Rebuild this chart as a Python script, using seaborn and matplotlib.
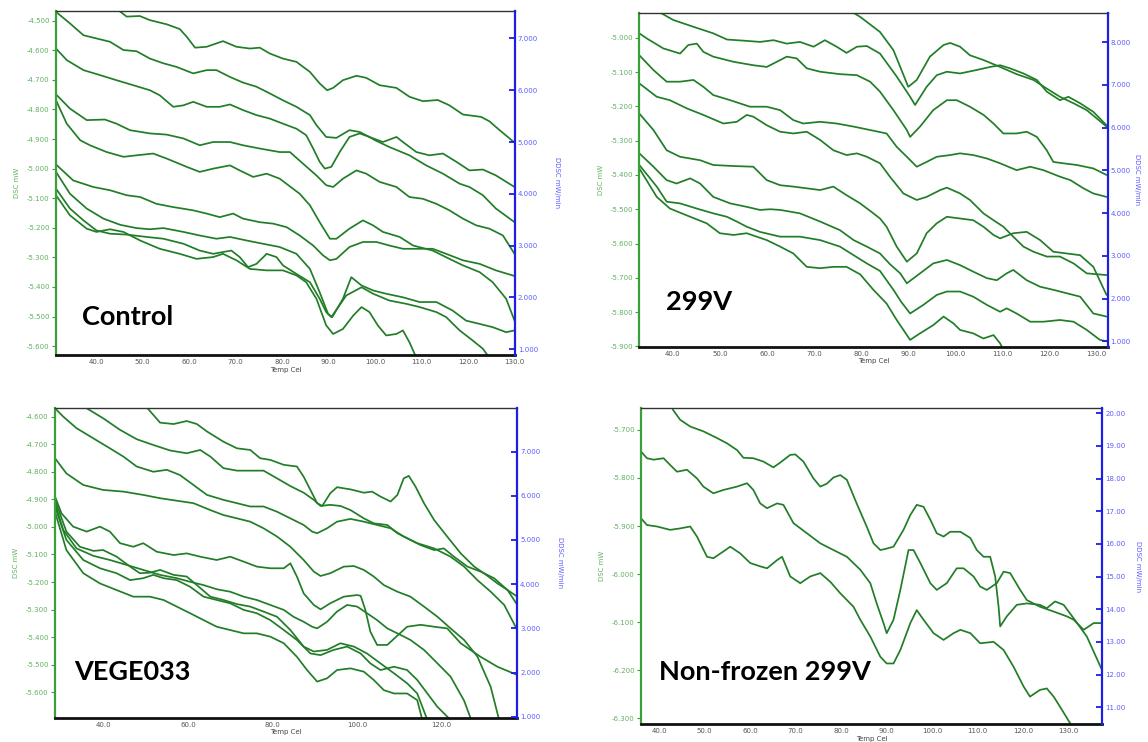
import matplotlib
matplotlib.use("Agg")
import matplotlib.pyplot as plt
import pandas as pd
import seaborn as sns
from matplotlib.ticker import FixedLocator, FuncFormatter

# ---------------- DSC traces (temperature degC, DSC mW) ----------------
# Control
control_1 = [(44.0,-4.455),(46.6,-4.486),(49.4,-4.484),(51.6,-4.498),(55.2,-4.512),(58.0,-4.528),(59.5,-4.554),(61.3,-4.591),(63.8,-4.588),(67.3,-4.569),(70.2,-4.588),(73.1,-4.594),(75.2,-4.591),(77.4,-4.611),(80.2,-4.628),(83.1,-4.639),(86.0,-4.673),(88.1,-4.712),(89.7,-4.735),(91.0,-4.727),(93.1,-4.701),(96.0,-4.686),(98.1,-4.693),(101.0,-4.718),(104.6,-4.727),(107.4,-4.757),(110.3,-4.772),(113.5,-4.768),(116.0,-4.786),(118.9,-4.817),(122.8,-4.825),(124.6,-4.840),(126.8,-4.870),(130.0,-4.912)]
control_2 = [(31.4,-4.470),(34.4,-4.509),(37.3,-4.549),(40.9,-4.563),(43.0,-4.571),(45.9,-4.599),(48.7,-4.603),(51.6,-4.628),(54.5,-4.644),(57.3,-4.656),(60.9,-4.678),(63.8,-4.667),(65.9,-4.667),(68.8,-4.690),(71.6,-4.709),(74.5,-4.723),(77.4,-4.746),(80.2,-4.769),(83.1,-4.791),(86.0,-4.819),(87.4,-4.853),(89.5,-4.893),(91.7,-4.896),(94.5,-4.870),(96.7,-4.876),(98.8,-4.893),(101.7,-4.910),(104.6,-4.893),(106.0,-4.910),(108.9,-4.944),(111.7,-4.955),(114.6,-4.949),(117.5,-4.977),(120.3,-5.006),(123.2,-5.003),(126.0,-5.023),(130.0,-5.062)]
control_3 = [(31.4,-4.594),(33.7,-4.633),(37.3,-4.667),(40.9,-4.684),(44.4,-4.701),(48.0,-4.718),(51.6,-4.735),(53.7,-4.752),(56.6,-4.791),(58.8,-4.786),(60.9,-4.774),(63.8,-4.791),(66.6,-4.791),(68.8,-4.783),(71.6,-4.802),(74.5,-4.819),(77.4,-4.831),(80.2,-4.848),(83.1,-4.865),(85.2,-4.887),(86.7,-4.932),(88.1,-4.977),(89.2,-5.000),(90.6,-4.994),(92.4,-4.944),(94.5,-4.893),(96.7,-4.881),(98.8,-4.893),(100.0,-4.904),(103.1,-4.927),(107.4,-4.955),(111.0,-4.989),(114.6,-5.017),(118.2,-5.051),(120.3,-5.062),(123.2,-5.090),(126.0,-5.135),(130.0,-5.181)]
control_4 = [(31.4,-4.749),(34.4,-4.797),(38.0,-4.836),(41.9,-4.834),(44.4,-4.848),(47.3,-4.870),(51.6,-4.881),(55.2,-4.885),(58.8,-4.898),(62.3,-4.921),(65.2,-4.910),(68.8,-4.910),(71.6,-4.921),(75.2,-4.932),(79.5,-4.944),(81.7,-4.944),(84.5,-4.983),(87.4,-5.023),(89.5,-5.056),(91.0,-5.062),(93.1,-5.034),(96.0,-5.006),(98.1,-5.017),(101.0,-5.045),(104.6,-5.062),(107.4,-5.096),(110.3,-5.102),(113.2,-5.119),(116.0,-5.141),(118.9,-5.169),(121.8,-5.192),(124.6,-5.203),(127.5,-5.226),(130.0,-5.288)]
control_5 = [(31.4,-4.769),(33.7,-4.848),(36.6,-4.904),(38.7,-4.921),(42.3,-4.944),(45.9,-4.960),(48.7,-4.955),(52.3,-4.949),(55.2,-4.966),(59.5,-4.994),(62.3,-5.011),(65.2,-5.000),(68.8,-4.989),(70.9,-5.006),(73.8,-5.028),(76.7,-5.017),(79.5,-5.034),(83.8,-5.085),(86.0,-5.124),(88.1,-5.181),(90.3,-5.237),(91.7,-5.237),(94.5,-5.203),(97.4,-5.175),(99.6,-5.192),(101.7,-5.214),(105.3,-5.231),(108.2,-5.260),(112.4,-5.277),(116.0,-5.305),(118.9,-5.327),(122.5,-5.350),(125.3,-5.384),(128.2,-5.440),(130.0,-5.514)]
control_6 = [(31.4,-4.986),(35.1,-5.040),(39.4,-5.062),(43.0,-5.073),(46.6,-5.090),(49.5,-5.096),(53.0,-5.119),(56.6,-5.130),(60.9,-5.141),(63.8,-5.152),(66.6,-5.164),(69.5,-5.152),(71.6,-5.169),(75.2,-5.181),(78.1,-5.186),(81.0,-5.198),(83.8,-5.226),(86.7,-5.260),(88.8,-5.293),(90.3,-5.310),(91.7,-5.305),(94.5,-5.265),(97.4,-5.248),(100.3,-5.248),(103.1,-5.260),(106.0,-5.271),(108.9,-5.271),(112.4,-5.271),(115.3,-5.288),(118.9,-5.310),(122.5,-5.322),(126.0,-5.344),(130.0,-5.363)]
control_7 = [(31.4,-5.011),(34.4,-5.085),(38.0,-5.135),(41.6,-5.169),(45.2,-5.190),(48.7,-5.201),(51.6,-5.205),(54.5,-5.201),(58.8,-5.214),(62.3,-5.226),(65.9,-5.237),(68.8,-5.231),(72.4,-5.243),(75.9,-5.254),(79.5,-5.265),(83.1,-5.288),(86.0,-5.339),(88.1,-5.418),(89.9,-5.491),(90.8,-5.502),(93.1,-5.440),(94.9,-5.367),(97.1,-5.395),(99.6,-5.412),(102.4,-5.423),(106.0,-5.435),(109.6,-5.451),(113.2,-5.451),(116.7,-5.480),(119.6,-5.514),(122.5,-5.525),(125.3,-5.536),(128.2,-5.553),(130.0,-5.547)]
control_8 = [(31.4,-5.068),(34.4,-5.135),(37.3,-5.175),(40.1,-5.209),(43.0,-5.220),(46.6,-5.223),(50.9,-5.231),(54.5,-5.237),(58.8,-5.254),(62.3,-5.277),(65.2,-5.288),(67.3,-5.282),(69.1,-5.277),(70.9,-5.299),(72.7,-5.333),(74.5,-5.322),(76.7,-5.288),(78.8,-5.299),(80.2,-5.327),(83.1,-5.356),(86.0,-5.384),(88.1,-5.440),(89.5,-5.485),(90.6,-5.502),(93.8,-5.429),(97.1,-5.401),(99.6,-5.423),(103.1,-5.446),(106.7,-5.457),(109.6,-5.468),(113.2,-5.485),(115.3,-5.502),(118.2,-5.547),(121.0,-5.581),(123.2,-5.609),(124.6,-5.640)]
control_9 = [(31.4,-5.090),(34.4,-5.158),(38.0,-5.203),(40.1,-5.214),(43.0,-5.205),(45.9,-5.214),(49.5,-5.243),(53.7,-5.271),(58.0,-5.288),(61.6,-5.305),(65.2,-5.299),(67.3,-5.288),(70.2,-5.310),(73.1,-5.339),(76.7,-5.344),(80.2,-5.344),(83.1,-5.361),(85.2,-5.384),(87.4,-5.440),(89.5,-5.530),(91.0,-5.559),(93.1,-5.542),(95.3,-5.497),(97.1,-5.468),(98.8,-5.485),(100.6,-5.530),(102.4,-5.564),(104.6,-5.559),(106.0,-5.547),(107.4,-5.587),(108.9,-5.640)]

# 299V
v299_0 = [(77.0,-4.915),(78.0,-4.924),(79.8,-4.939),(84.0,-4.983),(86.85,-5.036),(88.3,-5.085),(90.0,-5.143),(91.8,-5.123),(94.6,-5.055),(97.5,-5.021),(98.9,-5.015),(101.0,-5.026),(103.1,-5.051),(106.0,-5.065),(109.5,-5.085),(113.0,-5.106),(116.6,-5.123),(119.4,-5.148),(122.2,-5.172),(125.1,-5.191),(127.9,-5.211),(132.1,-5.259)]
v299_1 = [(35.9,-4.905),(37.0,-4.924),(40.1,-4.948),(44.4,-4.968),(48.6,-4.987),(51.5,-5.005),(55.7,-5.009),(58.5,-5.012),(61.4,-5.007),(64.2,-5.017),(67.0,-5.012),(69.9,-5.026),(72.3,-5.007),(74.8,-5.026),(76.9,-5.044),(79.1,-5.026),(81.2,-5.024),(84.0,-5.046),(87.6,-5.114),(90.4,-5.172),(91.45,-5.196),(93.9,-5.143),(96.05,-5.109),(98.2,-5.099),(101.0,-5.104),(104.5,-5.094),(107.4,-5.085),(109.5,-5.080),(111.6,-5.089),(114.45,-5.104),(117.3,-5.123),(119.4,-5.157),(122.2,-5.182),(124.0,-5.172),(126.5,-5.191),(129.3,-5.216),(132.1,-5.255)]
v299_2 = [(32.9,-4.987),(34.5,-5.002),(38.0,-5.031),(41.55,-5.046),(43.3,-5.021),(45.1,-5.017),(46.5,-5.041),(48.6,-5.055),(52.9,-5.070),(57.1,-5.080),(59.95,-5.085),(62.8,-5.065),(64.2,-5.055),(66.3,-5.060),(68.45,-5.089),(71.3,-5.099),(75.5,-5.106),(79.1,-5.109),(81.9,-5.128),(84.0,-5.157),(86.85,-5.211),(89.7,-5.269),(90.4,-5.289),(92.5,-5.259),(95.3,-5.211),(98.2,-5.182),(100.3,-5.182),(103.1,-5.201),(106.0,-5.225),(108.1,-5.250),(110.2,-5.279),(113.0,-5.279),(115.15,-5.274),(117.3,-5.289),(119.4,-5.328),(120.8,-5.362),(122.9,-5.366),(125.8,-5.371),(129.3,-5.381),(132.1,-5.400)]
v299_3 = [(32.9,-5.051),(35.9,-5.094),(38.7,-5.128),(41.55,-5.128),(44.4,-5.123),(46.5,-5.143),(48.6,-5.167),(52.2,-5.182),(56.4,-5.201),(59.95,-5.201),(62.8,-5.211),(65.6,-5.240),(67.7,-5.250),(71.3,-5.245),(74.8,-5.250),(78.4,-5.259),(81.9,-5.269),(85.4,-5.279),(87.55,-5.318),(89.7,-5.347),(91.8,-5.376),(93.9,-5.362),(96.05,-5.347),(98.9,-5.342),(101.0,-5.337),(103.8,-5.342),(106.7,-5.352),(109.5,-5.366),(113.0,-5.386),(115.9,-5.376),(118.7,-5.386),(122.2,-5.405),(124.4,-5.415),(127.2,-5.439),(129.3,-5.454),(132.1,-5.464)]
v299_4 = [(32.9,-5.133),(36.6,-5.172),(39.4,-5.182),(43.0,-5.206),(46.5,-5.225),(50.75,-5.250),(53.6,-5.245),(55.7,-5.225),(57.1,-5.230),(59.95,-5.255),(62.8,-5.274),(65.6,-5.279),(68.45,-5.274),(71.3,-5.298),(74.1,-5.328),(76.9,-5.342),(79.1,-5.337),(81.2,-5.347),(84.0,-5.366),(86.1,-5.405),(88.97,-5.454),(91.8,-5.473),(93.9,-5.464),(96.8,-5.444),(98.2,-5.437),(101.0,-5.454),(103.1,-5.473),(105.96,-5.512),(108.1,-5.532),(110.2,-5.551),(112.3,-5.580),(114.45,-5.609),(116.6,-5.624),(119.4,-5.638),(122.2,-5.638),(125.1,-5.658),(127.9,-5.687),(132.1,-5.692)]
v299_5 = [(32.9,-5.221),(35.9,-5.269),(38.7,-5.328),(41.55,-5.347),(45.8,-5.357),(48.6,-5.371),(52.9,-5.374),(57.1,-5.376),(59.95,-5.415),(62.8,-5.430),(65.6,-5.434),(68.45,-5.439),(71.3,-5.444),(74.1,-5.434),(76.9,-5.459),(79.8,-5.483),(82.6,-5.512),(84.0,-5.527),(85.4,-5.551),(87.55,-5.609),(89.7,-5.653),(91.8,-5.629),(93.9,-5.570),(96.05,-5.541),(98.2,-5.522),(101.0,-5.527),(103.8,-5.532),(105.96,-5.551),(108.1,-5.575),(109.5,-5.585),(112.3,-5.570),(115.15,-5.566),(118.0,-5.590),(120.8,-5.624),(123.65,-5.629),(126.5,-5.634),(129.3,-5.668),(132.1,-5.750)]
v299_6 = [(32.9,-5.337),(35.9,-5.376),(38.7,-5.415),(40.8,-5.425),(43.7,-5.410),(45.8,-5.425),(48.6,-5.464),(52.2,-5.483),(55.7,-5.493),(58.5,-5.502),(60.7,-5.500),(62.8,-5.502),(67.0,-5.512),(71.3,-5.536),(75.5,-5.561),(78.4,-5.590),(81.2,-5.609),(84.0,-5.629),(86.1,-5.660),(88.3,-5.687),(89.7,-5.716),(92.5,-5.687),(95.3,-5.658),(98.2,-5.648),(101.0,-5.663),(103.8,-5.682),(106.7,-5.701),(108.8,-5.707),(110.9,-5.687),(112.3,-5.677),(115.15,-5.707),(118.0,-5.726),(120.8,-5.735),(123.65,-5.745),(126.5,-5.755),(129.3,-5.804),(132.1,-5.813)]
v299_7 = [(32.9,-5.371),(36.6,-5.434),(38.7,-5.478),(41.55,-5.483),(45.1,-5.498),(48.6,-5.512),(51.5,-5.522),(53.6,-5.536),(55.7,-5.551),(58.5,-5.566),(62.8,-5.580),(67.0,-5.580),(71.3,-5.590),(75.5,-5.609),(78.4,-5.634),(81.2,-5.658),(84.0,-5.680),(86.85,-5.735),(88.5,-5.770),(90.4,-5.804),(93.2,-5.779),(96.05,-5.750),(98.2,-5.740),(101.0,-5.740),(103.8,-5.755),(106.7,-5.779),(109.5,-5.799),(110.9,-5.789),(113.0,-5.804),(115.9,-5.828),(118.7,-5.828),(122.2,-5.823),(125.1,-5.828),(127.9,-5.852),(130.7,-5.881),(132.1,-5.885)]
v299_8 = [(32.9,-5.381),(36.6,-5.464),(39.4,-5.498),(43.7,-5.522),(47.2,-5.541),(50.0,-5.570),(52.9,-5.575),(55.7,-5.570),(59.95,-5.590),(62.8,-5.609),(65.6,-5.629),(68.45,-5.668),(71.3,-5.672),(74.1,-5.668),(76.9,-5.668),(79.8,-5.690),(82.6,-5.735),(85.4,-5.775),(87.55,-5.823),(90.4,-5.881),(92.5,-5.862),(95.3,-5.838),(97.5,-5.813),(99.6,-5.833),(101.0,-5.852),(103.8,-5.862),(105.96,-5.877),(108.1,-5.867),(109.5,-5.891),(110.2,-5.910)]

# VEGE033
vege_1 = [(50.1,-4.566),(53.3,-4.622),(56.5,-4.627),(59.6,-4.616),(62.0,-4.627),(64.4,-4.654),(68.3,-4.691),(71.5,-4.715),(74.65,-4.721),(77.0,-4.751),(79.4,-4.757),(82.6,-4.775),(85.7,-4.781),(87.3,-4.818),(88.9,-4.866),(90.5,-4.914),(91.7,-4.924),(93.6,-4.878),(95.2,-4.856),(98.4,-4.864),(101.55,-4.876),(103.5,-4.872),(105.5,-4.890),(107.9,-4.908),(109.5,-4.884),(111.0,-4.824),(112.2,-4.815),(113.8,-4.854),(115.8,-4.914),(118.2,-4.975),(121.3,-5.035),(124.5,-5.096),(127.7,-5.144),(130.0,-5.168),(133.2,-5.205),(135.6,-5.229),(137.9,-5.253)]
vege_2 = [(35.5,-4.566),(39.8,-4.606),(43.8,-4.648),(47.75,-4.682),(51.7,-4.703),(55.7,-4.723),(59.6,-4.733),(62.8,-4.721),(65.2,-4.745),(68.3,-4.787),(71.5,-4.796),(74.65,-4.796),(77.8,-4.796),(81.0,-4.824),(84.15,-4.852),(87.3,-4.876),(89.7,-4.902),(91.3,-4.924),(93.6,-4.920),(96.0,-4.924),(98.4,-4.939),(101.55,-4.969),(103.9,-4.987),(107.1,-4.993),(109.5,-5.023),(112.6,-5.047),(115.0,-5.066),(118.2,-5.084),(120.5,-5.078),(122.9,-5.108),(126.1,-5.144),(129.2,-5.162),(132.4,-5.186),(135.6,-5.229),(137.9,-5.283)]
vege_3 = [(28.4,-4.570),(30.35,-4.600),(33.5,-4.642),(37.5,-4.679),(41.4,-4.715),(44.6,-4.745),(47.75,-4.781),(51.7,-4.800),(54.9,-4.793),(58.0,-4.812),(61.2,-4.848),(64.4,-4.884),(68.3,-4.902),(71.5,-4.914),(74.65,-4.926),(77.8,-4.926),(81.0,-4.945),(84.15,-4.969),(87.3,-4.993),(89.3,-5.017),(90.5,-5.023),(92.85,-5.005),(95.2,-4.981),(98.4,-4.971),(101.55,-4.981),(104.7,-4.993),(107.9,-5.005),(111.0,-5.035),(114.2,-5.059),(118.2,-5.078),(122.1,-5.108),(125.3,-5.144),(128.45,-5.193),(131.6,-5.235),(134.8,-5.283),(137.9,-5.374)]
vege_4 = [(28.4,-4.751),(31.1,-4.806),(35.1,-4.848),(39.8,-4.866),(44.6,-4.872),(49.3,-4.884),(53.3,-4.896),(57.25,-4.905),(61.2,-4.914),(65.2,-4.939),(68.3,-4.957),(71.5,-4.969),(74.65,-4.981),(77.8,-5.005),(81.0,-5.035),(84.15,-5.072),(87.3,-5.120),(89.7,-5.162),(91.3,-5.178),(93.6,-5.168),(96.8,-5.144),(99.2,-5.142),(101.55,-5.156),(103.9,-5.180),(106.3,-5.211),(109.5,-5.235),(112.6,-5.253),(115.8,-5.289),(119.0,-5.326),(122.1,-5.368),(125.3,-5.410),(128.45,-5.470),(131.6,-5.580),(133.6,-5.700)]
vege_5 = [(28.4,-4.890),(29.95,-4.951),(32.7,-4.999),(35.9,-5.017),(39.05,-4.999),(41.4,-5.017),(43.8,-5.059),(46.96,-5.072),(49.3,-5.059),(52.5,-5.090),(56.5,-5.102),(59.6,-5.096),(62.8,-5.108),(66.7,-5.120),(69.9,-5.108),(73.1,-5.126),(76.2,-5.144),(79.4,-5.150),(82.6,-5.150),(84.15,-5.132),(85.7,-5.180),(87.3,-5.241),(89.7,-5.283),(91.3,-5.299),(93.6,-5.277),(96.8,-5.253),(99.97,-5.247),(100.8,-5.250),(101.9,-5.300),(103.1,-5.380),(104.7,-5.428),(107.1,-5.428),(111.8,-5.362),(115.0,-5.355),(118.2,-5.362),(121.3,-5.368),(124.5,-5.422),(129.2,-5.471),(133.2,-5.507),(137.9,-5.537)]
vege_6 = [(28.4,-4.914),(30.35,-5.011),(33.5,-5.078),(37.5,-5.105),(41.4,-5.120),(45.4,-5.138),(49.3,-5.156),(53.3,-5.174),(57.25,-5.186),(60.4,-5.199),(63.6,-5.211),(66.7,-5.226),(69.9,-5.235),(73.1,-5.253),(76.2,-5.265),(79.4,-5.283),(82.6,-5.301),(84.9,-5.326),(87.3,-5.344),(89.3,-5.362),(90.5,-5.368),(92.85,-5.344),(95.2,-5.307),(97.6,-5.283),(99.97,-5.289),(102.3,-5.313),(104.7,-5.338),(107.1,-5.368),(109.5,-5.386),(112.6,-5.410),(115.8,-5.446),(119.0,-5.495),(122.1,-5.543),(125.3,-5.630),(127.0,-5.700)]
vege_7 = [(28.4,-4.902),(31.1,-5.017),(34.3,-5.072),(37.5,-5.087),(39.8,-5.084),(43.0,-5.108),(46.2,-5.144),(48.5,-5.168),(50.9,-5.166),(53.3,-5.156),(56.5,-5.174),(59.6,-5.180),(62.0,-5.211),(65.2,-5.253),(68.3,-5.265),(71.5,-5.280),(74.65,-5.289),(77.8,-5.307),(81.0,-5.326),(84.15,-5.374),(87.3,-5.434),(89.7,-5.452),(92.85,-5.446),(96.0,-5.422),(99.2,-5.434),(102.3,-5.459),(105.5,-5.495),(108.7,-5.531),(111.8,-5.567),(114.2,-5.604),(116.6,-5.700)]
vege_8 = [(28.4,-4.926),(31.1,-5.047),(35.1,-5.120),(39.05,-5.150),(42.99,-5.168),(46.2,-5.193),(49.3,-5.186),(51.7,-5.174),(54.1,-5.186),(57.25,-5.193),(60.4,-5.217),(63.6,-5.253),(66.7,-5.265),(69.9,-5.277),(73.1,-5.301),(76.2,-5.313),(79.4,-5.338),(82.6,-5.374),(85.7,-5.410),(88.9,-5.459),(91.3,-5.465),(94.4,-5.446),(97.6,-5.434),(100.8,-5.459),(103.1,-5.495),(105.5,-5.519),(108.7,-5.507),(111.8,-5.519),(114.2,-5.555),(116.6,-5.604),(118.96,-5.652),(122.1,-5.700)]
vege_9 = [(28.4,-4.945),(31.1,-5.084),(35.1,-5.168),(39.05,-5.205),(42.99,-5.229),(46.96,-5.253),(50.9,-5.253),(54.1,-5.265),(57.25,-5.289),(60.4,-5.313),(63.6,-5.338),(66.7,-5.362),(69.9,-5.374),(73.1,-5.386),(76.2,-5.386),(79.4,-5.398),(82.6,-5.422),(85.7,-5.471),(88.1,-5.519),(90.5,-5.561),(92.85,-5.549),(95.2,-5.519),(98.4,-5.513),(101.55,-5.525),(103.9,-5.555),(106.3,-5.592),(108.7,-5.604),(111.8,-5.604),(114.2,-5.628),(115.4,-5.700)]

# Non-frozen 299V
nf_1 = [(43.0,-5.658),(44.6,-5.679),(46.8,-5.693),(49.7,-5.703),(52.7,-5.717),(54.9,-5.728),(57.1,-5.742),(58.5,-5.758),(60.7,-5.759),(62.9,-5.766),(65.1,-5.778),(66.6,-5.768),(68.8,-5.752),(69.9,-5.751),(71.7,-5.766),(73.9,-5.801),(75.4,-5.818),(76.85,-5.812),(78.3,-5.799),(79.8,-5.794),(81.25,-5.804),(83.4,-5.853),(85.6,-5.901),(87.1,-5.936),(88.6,-5.950),(89.6,-5.948),(91.5,-5.943),(93.7,-5.908),(95.2,-5.877),(96.6,-5.856),(98.1,-5.860),(99.6,-5.887),(101.0,-5.915),(102.5,-5.922),(103.96,-5.912),(106.2,-5.912),(108.4,-5.925),(109.8,-5.950),(111.3,-5.964),(112.75,-5.964),(113.85,-6.005),(114.6,-6.068),(114.95,-6.109),(116.4,-6.088),(118.6,-6.064),(120.8,-6.061),(123.7,-6.064),(125.2,-6.071),(127.0,-6.057),(128.9,-6.064),(131.1,-6.092),(134.0,-6.130),(137.3,-6.199)]
nf_2 = [(36.0,-5.745),(37.3,-5.759),(38.75,-5.762),(40.95,-5.759),(42.4,-5.773),(43.9,-5.787),(46.1,-5.783),(48.3,-5.801),(49.7,-5.818),(51.9,-5.832),(54.1,-5.825),(57.1,-5.818),(59.3,-5.811),(60.7,-5.825),(62.2,-5.853),(63.7,-5.863),(65.9,-5.853),(67.3,-5.856),(69.5,-5.894),(72.45,-5.915),(75.4,-5.936),(78.3,-5.950),(81.25,-5.964),(84.2,-5.991),(86.4,-6.019),(87.8,-6.061),(89.3,-6.102),(90.0,-6.123),(91.5,-6.095),(93.0,-6.033),(94.8,-5.950),(95.9,-5.950),(97.4,-5.977),(99.6,-6.019),(101.0,-6.033),(103.2,-6.019),(105.4,-5.988),(106.9,-5.988),(109.1,-6.005),(110.55,-6.026),(112.0,-6.033),(114.2,-6.019),(115.7,-5.995),(117.15,-5.998),(119.35,-6.033),(120.8,-6.054),(123.7,-6.068),(126.7,-6.078),(129.6,-6.088),(131.1,-6.095),(133.3,-6.116),(135.5,-6.102),(137.3,-6.102)]
nf_3 = [(36.0,-5.884),(37.3,-5.898),(39.5,-5.901),(42.4,-5.908),(44.6,-5.905),(46.8,-5.901),(48.3,-5.922),(50.5,-5.964),(51.9,-5.967),(54.1,-5.953),(55.6,-5.943),(57.8,-5.957),(60.0,-5.977),(62.2,-5.984),(63.7,-5.988),(65.9,-5.971),(67.0,-5.964),(68.8,-6.005),(71.0,-6.019),(73.2,-6.005),(75.4,-5.998),(77.6,-6.016),(79.8,-6.040),(82.7,-6.068),(84.2,-6.095),(86.4,-6.130),(88.6,-6.172),(90.0,-6.186),(91.5,-6.186),(93.0,-6.158),(95.2,-6.102),(96.6,-6.075),(98.1,-6.095),(100.3,-6.123),(102.5,-6.137),(104.7,-6.123),(106.2,-6.116),(108.4,-6.123),(110.55,-6.144),(113.5,-6.141),(115.7,-6.158),(117.9,-6.193),(120.1,-6.234),(121.5,-6.255),(123.7,-6.241),(125.2,-6.238),(126.7,-6.255),(128.1,-6.276),(130.3,-6.310),(131.0,-6.320)]

# ---------------- axis tick values ----------------
temp_ticks_10 = [40, 50, 60, 70, 80, 90, 100, 110, 120, 130]
temp_ticks_20 = [40, 60, 80, 100, 120]
control_dsc_ticks = [-4.5, -4.6, -4.7, -4.8, -4.9, -5.0, -5.1, -5.2, -5.3, -5.4, -5.5, -5.6]
v299_dsc_ticks = [-5.0, -5.1, -5.2, -5.3, -5.4, -5.5, -5.6, -5.7, -5.8, -5.9]
vege_dsc_ticks = [-4.6, -4.7, -4.8, -4.9, -5.0, -5.1, -5.2, -5.3, -5.4, -5.5, -5.6]
nf_dsc_ticks = [-5.7, -5.8, -5.9, -6.0, -6.1, -6.2, -6.3]
ddsc_ticks_7 = [1, 2, 3, 4, 5, 6, 7]
ddsc_ticks_8 = [1, 2, 3, 4, 5, 6, 7, 8]
nf_ddsc_ticks = [11, 12, 13, 14, 15, 16, 17, 18, 19, 20]

panel_titles = ["Control", "299V", "VEGE033", "Non-frozen 299V"]

# ---------------- style ----------------
sns.set_style("white")
plt.rcParams["font.family"] = ["DejaVu Sans"]
plt.rcParams["axes.unicode_minus"] = False

CURVE = "#217d27"
LEFT_SPINE = "#3c9f3c"
LEFT_TEXT = "#62b062"
RIGHT_SPINE = "#1d1de6"
RIGHT_TEXT = "#5c5cff"
X_TEXT = "#555555"


def to_frame(curves):
    rows = []
    for run, curve in enumerate(curves):
        for temp, dsc in curve:
            rows.append({"run": run, "temp": temp, "dsc": dsc})
    return pd.DataFrame(rows)


panels = [
    dict(title=panel_titles[0],
         curves=[control_1, control_2, control_3, control_4, control_5,
                 control_6, control_7, control_8, control_9],
         rect=[0.0488, 0.5216, 0.3998, 0.4636], xlim=(31.4, 130.1),
         ylim=(-5.630, -4.467), xticks=temp_ticks_10, yticks=control_dsc_ticks,
         y2lim=(0.89, 7.53), y2ticks=ddsc_ticks_7, y2fmt="{:.3f}",
         y2pad=16, title_xy=(0.057, 0.110)),
    dict(title=panel_titles[1],
         curves=[v299_0, v299_1, v299_2, v299_3, v299_4, v299_5, v299_6,
                 v299_7, v299_8],
         rect=[0.5569, 0.5327, 0.4080, 0.4501], xlim=(32.9, 132.35),
         ylim=(-5.901, -4.927), xticks=temp_ticks_10, yticks=v299_dsc_ticks,
         y2lim=(0.874, 8.69), y2ticks=ddsc_ticks_8, y2fmt="{:.3f}",
         y2pad=7, title_xy=(0.057, 0.134)),
    dict(title=panel_titles[2],
         curves=[vege_1, vege_2, vege_3, vege_4, vege_5, vege_6, vege_7,
                 vege_8, vege_9],
         rect=[0.0479, 0.0327, 0.4027, 0.4170], xlim=(28.4, 137.9),
         ylim=(-5.692, -4.570), xticks=temp_ticks_20, yticks=vege_dsc_ticks,
         y2lim=(0.977, 7.98), y2ticks=ddsc_ticks_7, y2fmt="{:.3f}",
         y2pad=16, title_xy=(0.041, 0.148)),
    dict(title=panel_titles[3],
         curves=[nf_1, nf_2, nf_3],
         rect=[0.5584, 0.0239, 0.4018, 0.4259], xlim=(36.0, 137.4),
         ylim=(-6.3125, -5.655), xticks=temp_ticks_10, yticks=nf_dsc_ticks,
         y2lim=(10.48, 20.15), y2ticks=nf_ddsc_ticks, y2fmt="{:.2f}",
         y2pad=11, title_xy=(0.039, 0.166)),
]

fig = plt.figure(figsize=(11.48, 7.42), dpi=100)
fig.patch.set_facecolor("white")

for p in panels:
    ax = fig.add_axes(p["rect"])
    ax.set_facecolor("white")
    df = to_frame(p["curves"])
    sns.lineplot(data=df, x="temp", y="dsc", units="run", estimator=None,
                 sort=False, ax=ax, color=CURVE, lw=1.25, legend=False,
                 solid_joinstyle="round", solid_capstyle="round")

    ax.set_xlim(*p["xlim"])
    ax.set_ylim(*p["ylim"])
    ax.xaxis.set_major_locator(FixedLocator(p["xticks"]))
    ax.xaxis.set_major_formatter(FuncFormatter(lambda v, _: f"{v:.1f}"))
    ax.yaxis.set_major_locator(FixedLocator(p["yticks"]))
    ax.yaxis.set_major_formatter(FuncFormatter(lambda v, _: f"{v:.3f}"))

    ax.tick_params(axis="y", direction="out", length=3, width=0.8,
                   color=LEFT_SPINE, labelcolor=LEFT_TEXT, labelsize=5, pad=1.5)
    ax.tick_params(axis="x", direction="in", length=3, width=0.9,
                   color="black", labelcolor=X_TEXT, labelsize=5, pad=3)

    for side in ("left", "bottom", "top", "right"):
        ax.spines[side].set_visible(True)
    ax.spines["left"].set_color(LEFT_SPINE)
    ax.spines["left"].set_linewidth(1.6)
    ax.spines["bottom"].set_color("#111111")
    ax.spines["bottom"].set_linewidth(2.0)
    ax.spines["top"].set_color("#333333")
    ax.spines["top"].set_linewidth(1.0)
    ax.spines["right"].set_visible(False)

    ax.set_xlabel("Temp Cel", color="#444444", fontsize=5, labelpad=1)
    ax.set_ylabel("DSC mW", color=LEFT_TEXT, fontsize=5, labelpad=5)

    ax2 = ax.twinx()
    ax2.set_ylim(*p["y2lim"])
    ax2.yaxis.set_major_locator(FixedLocator(p["y2ticks"]))
    fmt = p["y2fmt"]
    ax2.yaxis.set_major_formatter(FuncFormatter(lambda v, _, f=fmt: f.format(v)))
    ax2.tick_params(axis="y", direction="in", length=4, width=1.3,
                    color=RIGHT_SPINE, labelcolor=RIGHT_TEXT, labelsize=5, pad=2)
    for side in ("left", "bottom", "top"):
        ax2.spines[side].set_visible(False)
    ax2.spines["right"].set_color(RIGHT_SPINE)
    ax2.spines["right"].set_linewidth(1.6)
    ax2.set_ylabel("DDSC mW/min", color=RIGHT_TEXT, fontsize=5,
                   rotation=270, labelpad=p["y2pad"])

    ax2.text(p["title_xy"][0], p["title_xy"][1], p["title"],
             transform=ax.transAxes, ha="left", va="center",
             fontsize=19.5, fontweight="bold", family=["Lato", "DejaVu Sans"],
             color="black", zorder=10)

fig.savefig("out.png", dpi=100, facecolor="white")
